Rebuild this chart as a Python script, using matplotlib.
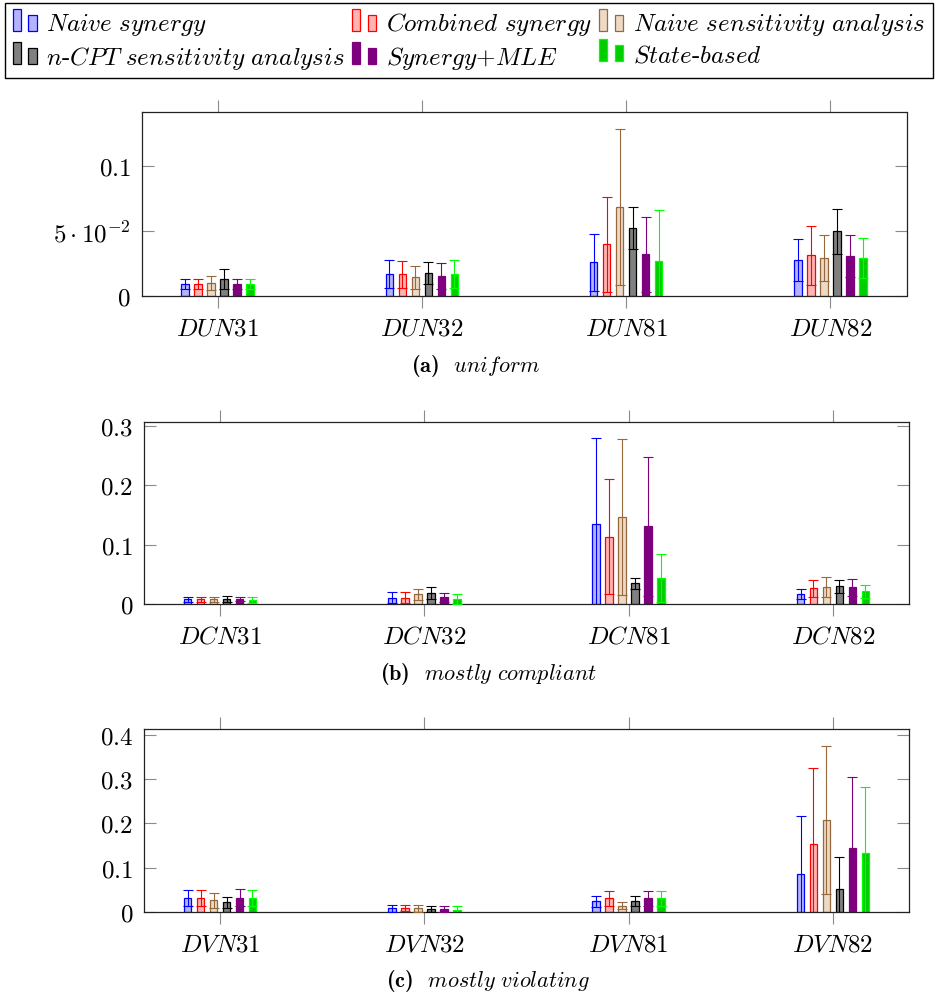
import numpy as np
import matplotlib
matplotlib.use("Agg")
import matplotlib.pyplot as plt
from matplotlib.patches import Rectangle
from matplotlib.container import BarContainer
from matplotlib.legend_handler import HandlerBase
from matplotlib.font_manager import FontProperties

plt.rcParams["mathtext.fontset"] = "cm"
plt.rcParams["font.family"] = ["cmr10", "DejaVu Sans"]
plt.rcParams["axes.formatter.use_mathtext"] = True

# ---------------------------------------------------------------- data
methods = [
    r"$Naive\ synergy$",
    r"$Combined\ synergy$",
    r"$Naive\ sensitivity\ analysis$",
    r"$n$-$CPT\ sensitivity\ analysis$",
    r"$Synergy$+$MLE$",
    r"$State$-$based$",
]
edge_colors = ["#0000ff", "#ff0000", "#96683c", "#000000", "#7f007f", "#00ff00"]
face_colors = ["#b3b3ff", "#ffb3b3", "#ecd9c6", "#808080", "#7f007f", "#00cc00"]

uniform_labels = [r"$DUN\mathrm{31}$", r"$DUN\mathrm{32}$", r"$DUN\mathrm{81}$", r"$DUN\mathrm{82}$"]
uniform_mean = [
    [0.0088, 0.0165, 0.0258, 0.0278],
    [0.0088, 0.0165, 0.0397, 0.0312],
    [0.0100, 0.0142, 0.0686, 0.0294],
    [0.0129, 0.0175, 0.0526, 0.0497],
    [0.0088, 0.0152, 0.0320, 0.0307],
    [0.0088, 0.0165, 0.0268, 0.0291],
]
uniform_std = [
    [0.0039, 0.0108, 0.0220, 0.0162],
    [0.0039, 0.0104, 0.0368, 0.0229],
    [0.0055, 0.0091, 0.0603, 0.0178],
    [0.0077, 0.0088, 0.0163, 0.0176],
    [0.0039, 0.0100, 0.0291, 0.0159],
    [0.0039, 0.0108, 0.0394, 0.0155],
]
uniform_yticks = [0, 0.05, 0.1]
uniform_yticklabels = [r"$\mathrm{0}$", r"$\mathrm{5}\cdot\mathrm{10}^{-2}$", r"$\mathrm{0.1}$"]

compliant_labels = [r"$DCN\mathrm{31}$", r"$DCN\mathrm{32}$", r"$DCN\mathrm{81}$", r"$DCN\mathrm{82}$"]
compliant_mean = [
    [0.0084, 0.0112, 0.1343, 0.0168],
    [0.0084, 0.0112, 0.1136, 0.0269],
    [0.0084, 0.0168, 0.1472, 0.0297],
    [0.0095, 0.0190, 0.0353, 0.0302],
    [0.0090, 0.0118, 0.1309, 0.0285],
    [0.0078, 0.0095, 0.0442, 0.0218],
]
compliant_std = [
    [0.0043, 0.0090, 0.1444, 0.0084],
    [0.0043, 0.0090, 0.0962, 0.0146],
    [0.0043, 0.0096, 0.1310, 0.0167],
    [0.0050, 0.0108, 0.0097, 0.0112],
    [0.0030, 0.0078, 0.1170, 0.0147],
    [0.0050, 0.0084, 0.0409, 0.0109],
]
compliant_yticks = [0, 0.1, 0.2, 0.3]
compliant_yticklabels = [r"$\mathrm{0}$", r"$\mathrm{0.1}$", r"$\mathrm{0.2}$", r"$\mathrm{0.3}$"]

violating_labels = [r"$DVN\mathrm{31}$", r"$DVN\mathrm{32}$", r"$DVN\mathrm{81}$", r"$DVN\mathrm{82}$"]
violating_mean = [
    [0.0302, 0.0075, 0.0234, 0.0845],
    [0.0317, 0.0075, 0.0302, 0.1540],
    [0.0257, 0.0075, 0.0136, 0.2083],
    [0.0211, 0.0060, 0.0249, 0.0513],
    [0.0317, 0.0068, 0.0302, 0.1442],
    [0.0302, 0.0045, 0.0302, 0.1321],
]
violating_std = [
    [0.0181, 0.0076, 0.0131, 0.1313],
    [0.0181, 0.0068, 0.0173, 0.1720],
    [0.0166, 0.0076, 0.0083, 0.1675],
    [0.0121, 0.0076, 0.0113, 0.0717],
    [0.0196, 0.0068, 0.0166, 0.1615],
    [0.0181, 0.0075, 0.0173, 0.1494],
]
violating_yticks = [0, 0.1, 0.2, 0.3, 0.4]
violating_yticklabels = [r"$\mathrm{0}$", r"$\mathrm{0.1}$", r"$\mathrm{0.2}$", r"$\mathrm{0.3}$", r"$\mathrm{0.4}$"]

# sub-caption tags are set in bold roman, descriptions in italic
caption_tags = ["(a)", "(b)", "(c)"]
caption_texts = [r"$uniform$", r"$mostly\ compliant$", r"$mostly\ violating$"]

# ---------------------------------------------------------------- layout
W, H = 939, 995
fig = plt.figure(figsize=(W / 100, H / 100), dpi=100)


def px_axes(left, top, right, bottom):
    return fig.add_axes([left / W, 1 - bottom / H, (right - left) / W, (bottom - top) / H])


panels = [
    (px_axes(141.5, 113.3, 906.5, 296.7), uniform_labels, uniform_mean, uniform_std,
     uniform_yticks, uniform_yticklabels, 0.1417, 475, 372),
    (px_axes(144, 422.7, 909, 605.3), compliant_labels, compliant_mean, compliant_std,
     compliant_yticks, compliant_yticklabels, 0.3067, 488, 680),
    (px_axes(144, 730, 909, 912.7), violating_labels, violating_mean, violating_std,
     violating_yticks, violating_yticklabels, 0.4136, 487.5, 987),
]

step = 0.0636
bar_w = 0.036
legend_handles = None
bold_tag = FontProperties(family="cmb10", size=16)

for (ax, xlabels, means, stds, yt, ytl, ymax, cap_x, cap_y), tag, desc in zip(
        panels, caption_tags, caption_texts):
    base = np.arange(len(xlabels))
    handles = []
    for j in range(len(methods)):
        xpos = base + (j - 2.5) * step
        bars = ax.bar(xpos, means[j], bar_w, color=face_colors[j], edgecolor=edge_colors[j],
                      linewidth=0.9, zorder=2)
        ax.errorbar(xpos, means[j], yerr=stds[j], fmt="none", ecolor=edge_colors[j],
                    elinewidth=0.8, capsize=3.8, capthick=0.8, zorder=3)
        handles.append(bars)
    if legend_handles is None:
        legend_handles = handles

    ax.set_xlim(-0.372, 3.372)
    ax.set_ylim(0, ymax)
    ax.set_xticks(base, xlabels, fontsize=18)
    ax.set_yticks(yt, ytl, fontsize=18)
    ax.tick_params(axis="x", direction="out", top=True, bottom=True, length=8.4,
                   width=0.8, color="#8a8a8a", pad=7.0)
    ax.tick_params(axis="y", direction="in", left=True, right=True, length=8.4,
                   width=0.8, color="#8a8a8a", pad=7.8)
    for sp in ax.spines.values():
        sp.set_linewidth(0.9)
        sp.set_color("#222222")
    fig.text(cap_x / W, 1 - cap_y / H, tag + "  " + desc, fontproperties=bold_tag,
             ha="center", va="baseline")


class PairedBarHandler(HandlerBase):
    """Legend key made of a tall and a short bar side by side."""

    def create_artists(self, legend, orig_handle, xdescent, ydescent, width, height,
                       fontsize, trans):
        patch = orig_handle.patches[0]
        fc, ec = patch.get_facecolor(), patch.get_edgecolor()
        bw = width * 0.335
        x0, y0 = -xdescent, -ydescent
        tall = Rectangle((x0, y0), bw, height * 1.25, facecolor=fc, edgecolor=ec,
                         linewidth=0.9, transform=trans)
        short = Rectangle((x0 + width * 0.665, y0), bw, height * 0.91, facecolor=fc,
                          edgecolor=ec, linewidth=0.9, transform=trans)
        return [tall, short]


order = [0, 3, 1, 4, 2, 5]
leg = fig.legend([legend_handles[i] for i in order], [methods[i] for i in order],
                 loc="upper left", bbox_to_anchor=(5 / W, 1 - 4 / H), ncol=3,
                 frameon=True, fancybox=False, framealpha=1, edgecolor="black",
                 borderpad=0.3, handlelength=0.96, handletextpad=0.4, columnspacing=0.28,
                 labelspacing=0.25, borderaxespad=0,
                 prop=FontProperties(family="cmr10", size=18),
                 handler_map={BarContainer: PairedBarHandler()})
leg.get_frame().set_linewidth(1.0)

fig.savefig("out.png", dpi=100)
